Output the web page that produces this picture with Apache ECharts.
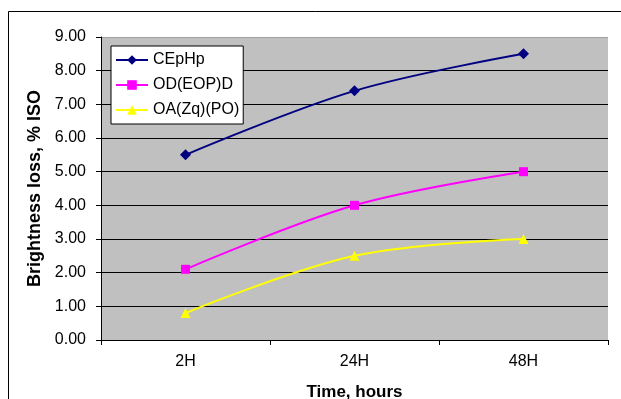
<!DOCTYPE html>
<html><head><meta charset="utf-8">
<script src="https://cdn.jsdelivr.net/npm/echarts@6/dist/echarts.min.js"></script>
<style>html,body{margin:0;padding:0;background:#fff}#c{width:621px;height:399px}</style>
</head><body><div id="c"></div>
<script>
const categories = ['2H', '24H', '48H'];
const seriesNames = ['CEpHp', 'OD(EOP)D', 'OA(Zq)(PO)'];
const cephp = [5.5, 7.4, 8.5];
const odeopd = [2.1, 4.0, 5.0];
const oazqpo = [0.8, 2.5, 3.0];

const chart = echarts.init(document.getElementById('c'), null, {renderer: 'canvas'});
const font = 'Liberation Sans, Arial, sans-serif';
const gridColors = ['#000','#000','#000','#000','#000','#000','#000','#000','#000','#a0a0a0'];
chart.setOption({
  animation: false,
  backgroundColor: '#fff',
  graphic: [{
    type: 'rect', shape: {x: 8.5, y: 11.5, width: 700, height: 500},
    style: {fill: 'none', stroke: '#000', lineWidth: 1}, z: 0, silent: true
  }],
  grid: {left: 101, right: 13, top: 37, bottom: 59, show: true, backgroundColor: '#c0c0c0', borderWidth: 0,
         containLabel: false, outerBoundsMode: 'none'},
  legend: {
    left: 111, top: 46, orient: 'vertical', backgroundColor: '#fff', borderColor: '#000', borderWidth: 1,
    padding: [6, 4, 6, 4], itemGap: 9, itemWidth: 32, itemHeight: 12,
    textStyle: {fontFamily: font, fontSize: 16, color: '#000'},
    data: seriesNames
  },
  xAxis: {
    type: 'category', data: categories, boundaryGap: true,
    axisLine: {lineStyle: {color: '#000', width: 1}},
    axisTick: {show: true, length: 5, lineStyle: {color: '#000'}},
    axisLabel: {fontFamily: font, fontSize: 16, color: '#000', margin: 14},
    name: 'Time, hours', nameLocation: 'middle', nameGap: 44,
    nameTextStyle: {fontFamily: font, fontSize: 17, fontWeight: 'bold', color: '#000'}
  },
  yAxis: {
    type: 'value', min: 0, max: 9, interval: 1,
    axisLine: {show: true, lineStyle: {color: '#000', width: 1}},
    axisTick: {show: true, length: 5, lineStyle: {color: '#000'}},
    axisLabel: {fontFamily: font, fontSize: 16, color: '#000', margin: 15, formatter: v => v.toFixed(2)},
    splitLine: {show: true, lineStyle: {color: gridColors, width: 1}},
    name: 'Brightness loss, % ISO', nameLocation: 'middle', nameGap: 57,
    nameTextStyle: {fontFamily: font, fontSize: 18, fontWeight: 'bold', color: '#000'}
  },
  series: [
    {name: seriesNames[0], type: 'line', data: cephp, smooth: 0.35, symbol: 'diamond', symbolSize: 11,
     itemStyle: {color: '#000080'}, lineStyle: {color: '#000080', width: 2}},
    {name: seriesNames[1], type: 'line', data: odeopd, smooth: 0.35, symbol: 'rect', symbolSize: 9,
     itemStyle: {color: '#ff00ff'}, lineStyle: {color: '#ff00ff', width: 2}},
    {name: seriesNames[2], type: 'line', data: oazqpo, smooth: 0.35, symbol: 'triangle', symbolSize: 10,
     itemStyle: {color: '#ffff00'}, lineStyle: {color: '#ffff00', width: 2}}
  ]
});
</script></body></html>
